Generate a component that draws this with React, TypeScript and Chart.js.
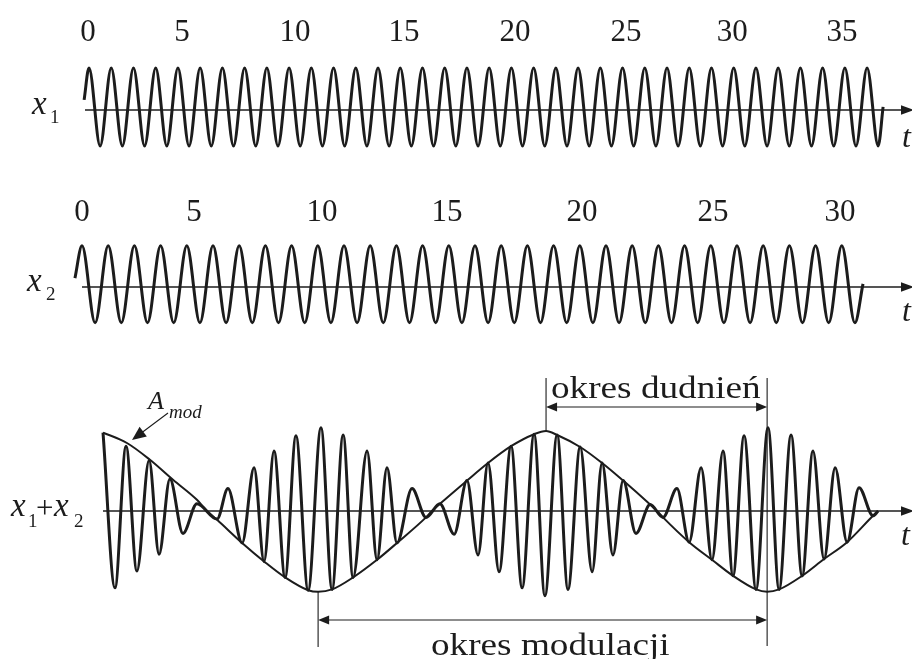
import React, { useEffect, useRef } from "react";
import { Chart, registerables } from "chart.js";

Chart.register(...registerables);

const INK = "#1c1c1c";
const SERIF = '"Liberation Serif", "Times New Roman", serif';

// ---- x1: extrema of the first signal (time in x1 periods) ----
const x1Times = [
  -0.22, 0, 0.5, 1, 1.5, 2, 2.5, 3, 3.5, 4, 4.5, 5, 5.5, 6, 6.5, 7, 7.5, 8, 8.5, 9, 9.5,
  10, 10.5, 11, 11.5, 12, 12.5, 13, 13.5, 14, 14.5, 15, 15.5, 16, 16.5, 17, 17.5, 18, 18.5,
  19, 19.5, 20, 20.5, 21, 21.5, 22, 22.5, 23, 23.5, 24, 24.5, 25, 25.5, 26, 26.5, 27, 27.5,
  28, 28.5, 29, 29.5, 30, 30.5, 31, 31.5, 32, 32.5, 33, 33.5, 34, 34.5, 35, 35.5, 35.72,
];
const x1Values = [
  0.26,
  1.08, -0.92, 1.08, -0.92, 1.08, -0.92, 1.08, -0.92, 1.08, -0.92, 1.08, -0.92,
  1.08, -0.92, 1.08, -0.92, 1.08, -0.92, 1.08, -0.92, 1.08, -0.92, 1.08, -0.92,
  1.08, -0.92, 1.08, -0.92, 1.08, -0.92, 1.08, -0.92, 1.08, -0.92, 1.08, -0.92,
  1.08, -0.92, 1.08, -0.92, 1.08, -0.92, 1.08, -0.92, 1.08, -0.92, 1.08, -0.92,
  1.08, -0.92, 1.08, -0.92, 1.08, -0.92, 1.08, -0.92, 1.08, -0.92, 1.08, -0.92,
  1.08, -0.92, 1.08, -0.92, 1.08, -0.92, 1.08, -0.92, 1.08, -0.92, 1.08, -0.92,
  0.08,
];
const x1TickTimes = [-0.04, 4.18, 9.27, 14.17, 19.16, 24.16, 28.93, 33.87];
const x1TickLabels = ["0", "5", "10", "15", "20", "25", "30", "35"];

// ---- x2: extrema of the second signal (time in x2 periods) ----
const x2Times = [
  -0.27, 0, 0.5, 1, 1.5, 2, 2.5, 3, 3.5, 4, 4.5, 5, 5.5, 6, 6.5, 7, 7.5, 8, 8.5, 9, 9.5,
  10, 10.5, 11, 11.5, 12, 12.5, 13, 13.5, 14, 14.5, 15, 15.5, 16, 16.5, 17, 17.5, 18, 18.5,
  19, 19.5, 20, 20.5, 21, 21.5, 22, 22.5, 23, 23.5, 24, 24.5, 25, 25.5, 26, 26.5, 27, 27.5,
  28, 28.5, 29, 29.5, 29.81,
];
const x2Values = [
  0.23,
  1.07, -0.93, 1.07, -0.93, 1.07, -0.93, 1.07, -0.93, 1.07, -0.93, 1.07, -0.93,
  1.07, -0.93, 1.07, -0.93, 1.07, -0.93, 1.07, -0.93, 1.07, -0.93, 1.07, -0.93,
  1.07, -0.93, 1.07, -0.93, 1.07, -0.93, 1.07, -0.93, 1.07, -0.93, 1.07, -0.93,
  1.07, -0.93, 1.07, -0.93, 1.07, -0.93, 1.07, -0.93, 1.07, -0.93, 1.07, -0.93,
  1.07, -0.93, 1.07, -0.93, 1.07, -0.93, 1.07, -0.93, 1.07, -0.93, 1.07, -0.93,
  0.08,
];
const x2TickTimes = [0, 4.27, 9.16, 13.93, 19.08, 24.08, 28.93];
const x2TickLabels = ["0", "5", "10", "15", "20", "25", "30"];

// ---- x1 + x2: extrema of the sum signal ----
const sumTimes = [
  0.0, 0.54, 1.04, 1.53, 2.08, 2.53, 3.02, 3.61, 4.24, 5.15, 5.64, 6.28, 6.82, 7.27, 7.72,
  8.22, 8.71, 9.26, 9.84, 10.34, 10.84, 11.29, 11.92, 12.37, 12.82, 13.27, 13.95, 14.58,
  15.21, 15.85, 16.43, 16.93, 17.38, 17.88, 18.42, 18.92, 19.46, 19.95, 20.5, 20.99, 21.54,
  22.08, 22.53, 23.02, 23.48, 24.06, 24.7, 25.28, 25.91, 26.46, 27.0, 27.49, 27.99, 28.44,
  28.94, 29.48, 30.02, 30.52, 31.06, 31.56, 32.05, 32.55, 33.05, 33.59, 34.13, 34.76, 34.99,
];
const sumValues = [
  0.98, -0.96, 0.81, -0.75, 0.63, -0.54, 0.4, -0.28, 0.09, -0.1, 0.28, -0.4, 0.54, -0.63,
  0.75, -0.83, 0.94, -0.99, 1.04, -0.98, 0.95, -0.83, 0.75, -0.61, 0.54, -0.4, 0.28, -0.08,
  0.09, -0.29, 0.38, -0.55, 0.6, -0.76, 0.81, -0.96, 0.96, -1.06, 0.95, -0.98, 0.8, -0.76,
  0.6, -0.55, 0.38, -0.28, 0.08, -0.08, 0.28, -0.39, 0.54, -0.61, 0.75, -0.81, 0.94, -0.98,
  1.04, -0.98, 0.95, -0.81, 0.75, -0.6, 0.54, -0.39, 0.29, -0.06, 0.0,
];

// ---- modulation envelope A_mod ----
const envTimes = [
  0.0, 1.08, 2.12, 3.16, 4.24, 4.7, 5.15, 6.28, 7.31, 8.22, 9.26, 9.71, 10.34, 11.29, 12.37,
  13.27, 14.58, 14.85, 15.21, 16.43, 17.38, 18.42, 19.46, 20.0, 20.5, 21.54, 22.53, 23.48,
  24.7, 25.01, 25.28, 26.46, 27.49, 28.44, 29.48, 29.98, 30.52, 31.56, 32.55, 33.59, 34.76,
  34.99,
];
const envValues = [
  0.98, 0.85, 0.64, 0.39, 0.14, 0.0, -0.11, -0.4, -0.64, -0.83, -0.99, -1.01, -0.98, -0.83,
  -0.61, -0.4, -0.08, 0.0, 0.09, 0.38, 0.6, 0.81, 0.96, 1.0, 0.95, 0.8, 0.6, 0.38, 0.08, 0.0,
  -0.08, -0.39, -0.61, -0.81, -0.98, -1.01, -0.98, -0.81, -0.6, -0.39, -0.06, 0.0,
];

// periods marked on the sum plot (times of envelope extrema)
const beatFrom = 20.0;
const beatTo = 29.98;
const modFrom = 9.71;
const modTo = 29.98;

const toPoints = (t: number[], v: number[]) => t.map((x, i) => ({ x, y: v[i] }));

function arrowHead(ctx: CanvasRenderingContext2D, fx: number, fy: number, tx: number, ty: number, len: number, half: number) {
  const a = Math.atan2(ty - fy, tx - fx);
  const bx = tx - len * Math.cos(a);
  const by = ty - len * Math.sin(a);
  ctx.beginPath();
  ctx.moveTo(tx, ty);
  ctx.lineTo(bx + half * Math.sin(a), by - half * Math.cos(a));
  ctx.lineTo(bx - half * Math.sin(a), by + half * Math.cos(a));
  ctx.closePath();
  ctx.fill();
}

const axisPlugin = {
  id: "axisArrow",
  afterDatasetsDraw(chart: any, _args: any, opts: any) {
    const { ctx } = chart;
    const xs = chart.scales.x;
    const ys = chart.scales.y;
    const y0 = ys.getPixelForValue(0);
    const x0 = xs.getPixelForValue(opts.start);
    const tip = chart.width + 2;
    ctx.save();
    ctx.strokeStyle = INK;
    ctx.fillStyle = INK;
    ctx.lineWidth = 1.5;
    ctx.beginPath();
    ctx.moveTo(x0, y0);
    ctx.lineTo(tip - 8, y0);
    ctx.stroke();
    arrowHead(ctx, x0, y0, tip, y0, 13, 4.8);
    ctx.restore();
  },
};

const annotPlugin = {
  id: "periods",
  afterDatasetsDraw(chart: any) {
    const { ctx } = chart;
    const xs = chart.scales.x;
    const ys = chart.scales.y;
    const bx1 = xs.getPixelForValue(beatFrom);
    const bx2 = xs.getPixelForValue(beatTo);
    const mx1 = xs.getPixelForValue(modFrom);
    const mx2 = xs.getPixelForValue(modTo);
    ctx.save();
    ctx.strokeStyle = INK;
    ctx.fillStyle = INK;
    ctx.lineWidth = 1.1;
    ctx.beginPath();
    // beat period markers
    ctx.moveTo(bx1, 8);
    ctx.lineTo(bx1, ys.getPixelForValue(1.0));
    ctx.moveTo(bx2, 8);
    ctx.lineTo(bx2, 276);
    ctx.moveTo(bx1 + 6, 37);
    ctx.lineTo(bx2 - 6, 37);
    // modulation period markers
    ctx.moveTo(mx1, ys.getPixelForValue(-1.01));
    ctx.lineTo(mx1, 277);
    ctx.moveTo(mx1 + 6, 250);
    ctx.lineTo(mx2 - 6, 250);
    // A_mod pointer
    ctx.moveTo(168, 43);
    ctx.lineTo(140, 64);
    ctx.stroke();
    arrowHead(ctx, bx2, 37, bx1, 37, 11, 4.6);
    arrowHead(ctx, bx1, 37, bx2, 37, 11, 4.6);
    arrowHead(ctx, mx2, 250, mx1, 250, 11, 4.6);
    arrowHead(ctx, mx1, 250, mx2, 250, 11, 4.6);
    arrowHead(ctx, 168, 43, 132, 70, 14, 6);
    ctx.restore();
  },
};

type WaveCfg = {
  times: number[];
  values: number[];
  tickTimes: number[];
  tickLabels: string[];
  xmin: number;
  xmax: number;
  ymin: number;
  ymax: number;
  axisH: number;
  axisStart: number;
};

function makeWave(canvas: HTMLCanvasElement, c: WaveCfg) {
  return new Chart(canvas, {
    type: "line",
    data: {
      datasets: [
        {
          data: toPoints(c.times, c.values),
          borderColor: INK,
          borderWidth: 3,
          pointRadius: 0,
          fill: false,
          cubicInterpolationMode: "monotone",
          clip: false as any,
        },
      ],
    },
    options: {
      responsive: false,
      animation: false,
      events: [],
      layout: { padding: 0 },
      plugins: {
        legend: { display: false },
        tooltip: { enabled: false },
        axisArrow: { start: c.axisStart },
      } as any,
      scales: {
        x: {
          type: "linear",
          position: "top",
          min: c.xmin,
          max: c.xmax,
          grid: { display: false, drawTicks: false },
          border: { display: false },
          afterFit: (s: any) => {
            s.height = c.axisH;
          },
          afterBuildTicks: (s: any) => {
            s.ticks = c.tickTimes.map((v) => ({ value: v }));
          },
          ticks: {
            autoSkip: false,
            maxRotation: 0,
            minRotation: 0,
            padding: 0,
            color: INK,
            font: { family: SERIF, size: 31 },
            callback: (_v: any, i: number) => c.tickLabels[i],
          },
        },
        y: { display: false, min: c.ymin, max: c.ymax },
      },
    },
    plugins: [axisPlugin],
  });
}

function makeSum(canvas: HTMLCanvasElement) {
  return new Chart(canvas, {
    type: "line",
    data: {
      datasets: [
        {
          data: toPoints(envTimes, envValues),
          borderColor: INK,
          borderWidth: 2,
          pointRadius: 0,
          fill: false,
          cubicInterpolationMode: "monotone",
          clip: false as any,
        },
        {
          data: toPoints(sumTimes, sumValues),
          borderColor: INK,
          borderWidth: 3,
          pointRadius: 0,
          fill: false,
          cubicInterpolationMode: "monotone",
          clip: false as any,
        },
      ],
    },
    options: {
      responsive: false,
      animation: false,
      events: [],
      layout: { padding: 0 },
      plugins: {
        legend: { display: false },
        tooltip: { enabled: false },
        axisArrow: { start: 0 },
      } as any,
      scales: {
        x: { type: "linear", display: false, min: -4.65, max: 36.52 },
        y: { display: false, min: -1.85, max: 1.7625 },
      },
    },
    plugins: [axisPlugin, annotPlugin],
  });
}

function Txt(props: {
  x: number;
  base: number;
  size: number;
  italic?: boolean;
  sx?: number;
  children: React.ReactNode;
}) {
  const { x, base, size, italic, sx, children } = props;
  return (
    <div
      style={{
        position: "absolute",
        left: x,
        top: base - 0.8375 * size,
        fontFamily: SERIF,
        fontSize: size,
        lineHeight: `${size}px`,
        fontStyle: italic ? "italic" : "normal",
        whiteSpace: "nowrap",
        color: INK,
        transform: sx ? `scaleX(${sx})` : undefined,
        transformOrigin: "left top",
      }}
    >
      {children}
    </div>
  );
}

export default function App() {
  const c1 = useRef<HTMLCanvasElement>(null);
  const c2 = useRef<HTMLCanvasElement>(null);
  const c3 = useRef<HTMLCanvasElement>(null);

  useEffect(() => {
    const ch1 = makeWave(c1.current!, {
      times: x1Times,
      values: x1Values,
      tickTimes: x1TickTimes,
      tickLabels: x1TickLabels,
      xmin: -4.004,
      xmax: 37.02,
      ymin: -1.538,
      ymax: 1.513,
      axisH: 51,
      axisStart: -0.18,
    });
    const ch2 = makeWave(c2.current!, {
      times: x2Times,
      values: x2Values,
      tickTimes: x2TickTimes,
      tickLabels: x2TickLabels,
      xmin: -3.13,
      xmax: 31.68,
      ymin: -1.377,
      ymax: 1.455,
      axisH: 51,
      axisStart: 0,
    });
    const ch3 = makeSum(c3.current!);
    return () => {
      ch1.destroy();
      ch2.destroy();
      ch3.destroy();
    };
  }, []);

  return (
    <div
      style={{
        position: "fixed",
        left: 0,
        top: 0,
        width: 912,
        height: 659,
        overflow: "hidden",
        background: "#ffffff",
      }}
    >
      <canvas ref={c1} width={912} height={170} style={{ position: "absolute", left: 0, top: 0 }} />
      <canvas ref={c2} width={912} height={160} style={{ position: "absolute", left: 0, top: 180 }} />
      <canvas ref={c3} width={912} height={289} style={{ position: "absolute", left: 0, top: 370 }} />

      {/* x1 */}
      <Txt x={32} base={115} size={33} italic>x</Txt>
      <Txt x={50} base={123} size={19}>1</Txt>
      <Txt x={902} base={147} size={32} italic>t</Txt>

      {/* x2 */}
      <Txt x={27} base={292} size={33} italic>x</Txt>
      <Txt x={46} base={300} size={19}>2</Txt>
      <Txt x={902} base={321} size={32} italic>t</Txt>

      {/* x1 + x2 */}
      <Txt x={11} base={517} size={33} italic>x</Txt>
      <Txt x={28} base={527} size={19}>1</Txt>
      <Txt x={36} base={518} size={31}>+</Txt>
      <Txt x={54} base={517} size={33} italic>x</Txt>
      <Txt x={74} base={527} size={19}>2</Txt>
      <Txt x={901} base={545} size={32} italic>t</Txt>

      <Txt x={148} base={410} size={26} italic>A</Txt>
      <Txt x={169} base={418} size={19} italic>mod</Txt>

      <Txt x={551} base={398} size={31} sx={1.2}>okres dudnień</Txt>
      <Txt x={431} base={655} size={31} sx={1.2}>okres modulacji</Txt>
    </div>
  );
}
